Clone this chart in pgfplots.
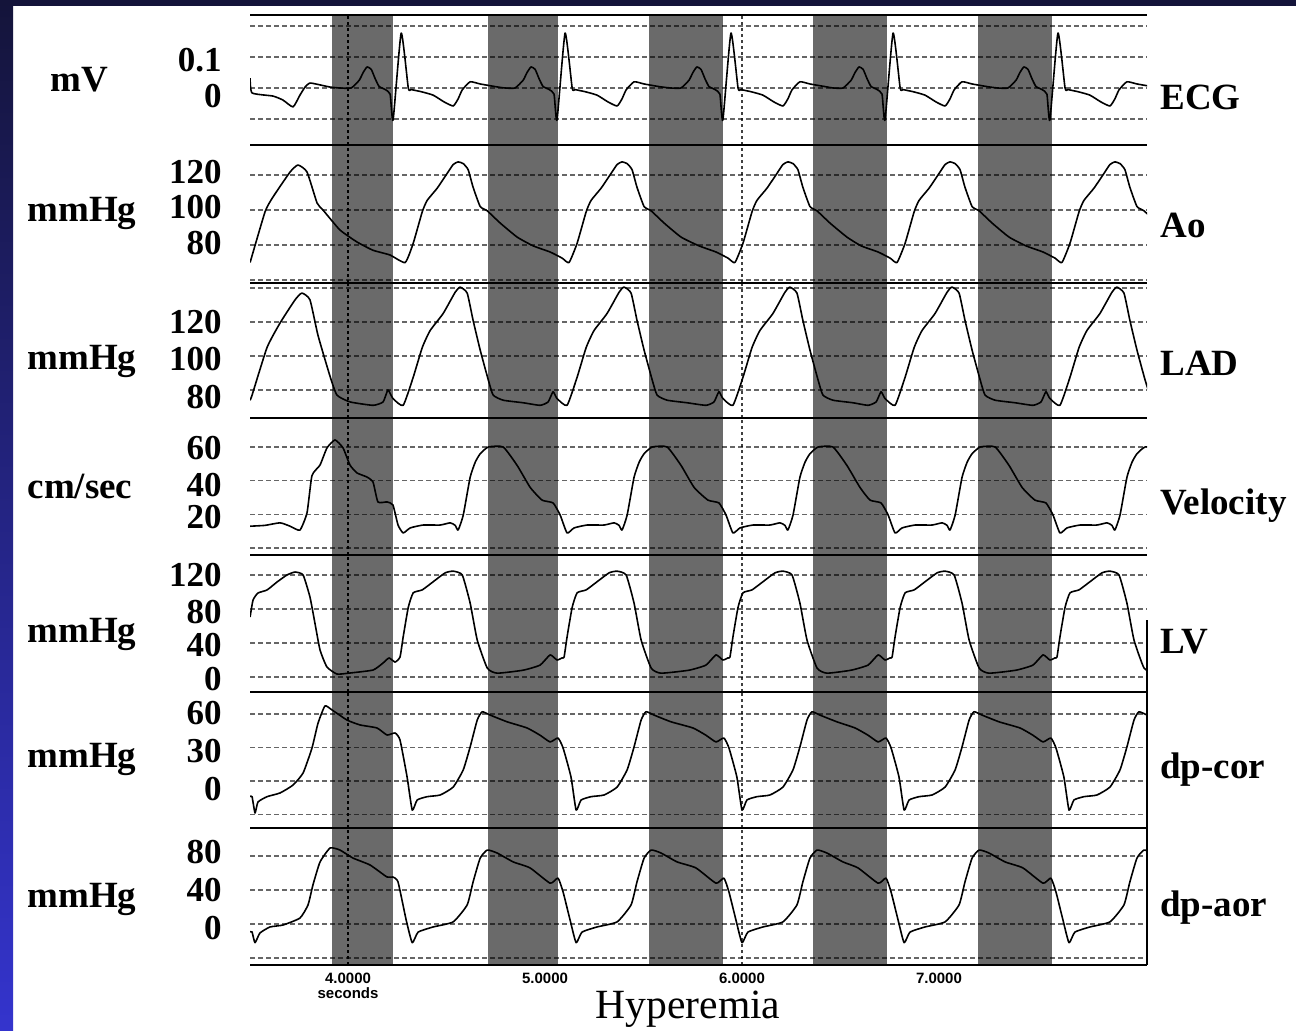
\documentclass[border=0pt]{standalone}
\usepackage{pgfplots}
\pgfplotsset{compat=1.18}
\usepackage{fontspec}
\setmainfont{Liberation Serif}
\newfontfamily\sansb{Liberation Sans}
\definecolor{bandgray}{RGB}{106,106,106}
\definecolor{navyA}{RGB}{20,20,58}
\definecolor{blueB}{RGB}{52,52,205}

\newcommand{\bands}[2]{%
\addplot[fill=bandgray, draw=none] coordinates {(3.919,#1) (4.228,#1) (4.228,#2) (3.919,#2)};
\addplot[fill=bandgray, draw=none] coordinates {(4.711,#1) (5.066,#1) (5.066,#2) (4.711,#2)};
\addplot[fill=bandgray, draw=none] coordinates {(5.528,#1) (5.904,#1) (5.904,#2) (5.528,#2)};
\addplot[fill=bandgray, draw=none] coordinates {(6.360,#1) (6.736,#1) (6.736,#2) (6.360,#2)};
\addplot[fill=bandgray, draw=none] coordinates {(7.198,#1) (7.574,#1) (7.574,#2) (7.198,#2)};
\addplot[black, line width=1pt, dash pattern=on 1.5pt off 1.5pt] coordinates {(4,#1) (4,#2)};
\addplot[black!75, line width=0.6pt, dash pattern=on 1.5pt off 1.5pt] coordinates {(6,#1) (6,#2)};
}

\pgfplotsset{
 panel/.style={
   scale only axis, width=448.5pt, anchor=north west,
   xmin=3.5025, xmax=8.056,
   axis on top,
   axis line style={draw=none},
   xtick=\empty,
   ymajorgrids, yticklabels={},
   major tick length=0pt,
   major grid style={black, draw opacity=0.6, line width=0.75pt, dash pattern=on 2.4pt off 1.6pt},
   extra y tick style={grid=none, major tick length=0pt},
   yticklabel style={font=\bfseries\fontsize{17.5}{19}\selectfont, anchor=east, inner sep=0pt, xshift=-14pt},
 },
 trace/.style={black, line width=0.8pt, smooth, tension=0.3, line join=round},
}

\begin{document}
\begin{tikzpicture}[x=0.5pt,y=0.5pt]
\useasboundingbox (0,0) rectangle (1296,1030);
\fill[white] (0,0) rectangle (1296,1030);
\shade[top color=navyA, bottom color=blueB] (0,0) rectangle (13,1030);
\fill[navyA] (0,1024) rectangle (1296,1030);

% ECG
\begin{axis}[panel, at={(125pt,507.5pt)}, height=65pt, ymin=-0.1839, ymax=0.2355,
  ytick={-0.1,0,0.1,0.2}, extra y ticks={0.09,-0.026}, extra y tick labels={0.1,0}]
\bands{-0.1839}{0.2355}
\addplot[trace] coordinates {(3.503,0.032) (3.513,-0.016) (3.619,-0.026) (3.670,-0.039) (3.721,-0.061) (3.756,-0.023) (3.782,0.003) (3.807,0.016) (3.858,0.010) (3.909,0.003) (3.959,0.0) (4.016,0.0) (4.057,0.025) (4.077,0.05) (4.097,0.068) (4.118,0.06) (4.138,0.03) (4.158,0.005) (4.189,-0.005) (4.214,-0.02) (4.229,-0.103) (4.270,0.177) (4.306,0.0) (4.321,-0.005) (4.372,-0.012) (4.432,-0.023) (4.488,-0.045) (4.534,-0.058) (4.559,-0.035) (4.580,-0.006) (4.620,0.02) (4.671,0.013) (4.752,0.004) (4.797,0.0) (4.848,0.0) (4.889,0.025) (4.909,0.05) (4.929,0.068) (4.950,0.06) (4.970,0.03) (4.990,0.005) (5.021,-0.005) (5.046,-0.02) (5.061,-0.103) (5.102,0.177) (5.138,0.0) (5.153,-0.005) (5.204,-0.012) (5.264,-0.023) (5.320,-0.045) (5.366,-0.058) (5.391,-0.035) (5.412,-0.006) (5.452,0.02) (5.503,0.013) (5.584,0.004) (5.639,0.0) (5.690,0.0) (5.731,0.025) (5.751,0.05) (5.771,0.068) (5.792,0.06) (5.812,0.03) (5.832,0.005) (5.863,-0.005) (5.888,-0.02) (5.903,-0.103) (5.944,0.177) (5.980,0.0) (5.995,-0.005) (6.046,-0.012) (6.106,-0.023) (6.162,-0.045) (6.208,-0.058) (6.233,-0.035) (6.254,-0.006) (6.294,0.02) (6.345,0.013) (6.426,0.004) (6.462,0.0) (6.513,0.0) (6.554,0.025) (6.574,0.05) (6.594,0.068) (6.615,0.06) (6.635,0.03) (6.655,0.005) (6.686,-0.005) (6.711,-0.02) (6.726,-0.103) (6.767,0.177) (6.803,0.0) (6.818,-0.005) (6.869,-0.012) (6.929,-0.023) (6.985,-0.045) (7.031,-0.058) (7.056,-0.035) (7.077,-0.006) (7.117,0.02) (7.168,0.013) (7.249,0.004) (7.299,0.0) (7.350,0.0) (7.391,0.025) (7.411,0.05) (7.431,0.068) (7.452,0.06) (7.472,0.03) (7.492,0.005) (7.523,-0.005) (7.548,-0.02) (7.563,-0.103) (7.604,0.177) (7.640,0.0) (7.655,-0.005) (7.706,-0.012) (7.766,-0.023) (7.822,-0.045) (7.868,-0.058) (7.893,-0.035) (7.914,-0.006) (7.954,0.02) (8.005,0.013) (8.086,0.004)};
\end{axis}

% Ao
\begin{axis}[panel, at={(125pt,442.5pt)}, height=69pt, ymin=58.29, ymax=137.14,
  ytick={60,80,100,120}, extra y ticks={121.7,101.7,81.1}, extra y tick labels={120,100,80}]
\bands{58.29}{137.14}
\addplot[trace] coordinates {(3.503,70) (3.579,99) (3.619,107.4) (3.706,121.7) (3.746,125.7) (3.792,121.7) (3.843,104) (3.873,100) (3.959,88.6) (4.046,81.7) (4.127,77) (4.213,74.3) (4.290,70) (4.331,81) (4.377,99) (4.402,105.5) (4.453,112.5) (4.504,121) (4.534,126) (4.559,127.5) (4.585,126.5) (4.610,123) (4.635,113) (4.671,102) (4.707,99.5) (4.773,92.5) (4.859,84.5) (4.940,79.5) (5.026,76) (5.087,72.5) (5.122,70) (5.163,81) (5.209,99) (5.234,105.5) (5.285,112.5) (5.336,121) (5.366,126) (5.391,127.5) (5.417,126.5) (5.442,123) (5.467,113) (5.503,102) (5.539,99.5) (5.605,92.5) (5.691,84.5) (5.782,79.5) (5.868,76) (5.929,72.5) (5.964,70) (6.005,81) (6.051,99) (6.076,105.5) (6.127,112.5) (6.178,121) (6.208,126) (6.233,127.5) (6.259,126.5) (6.284,123) (6.309,113) (6.345,102) (6.381,99.5) (6.447,92.5) (6.533,84.5) (6.605,79.5) (6.691,76) (6.752,72.5) (6.787,70) (6.828,81) (6.874,99) (6.899,105.5) (6.950,112.5) (7.001,121) (7.031,126) (7.056,127.5) (7.082,126.5) (7.107,123) (7.132,113) (7.168,102) (7.204,99.5) (7.270,92.5) (7.356,84.5) (7.442,79.5) (7.528,76) (7.589,72.5) (7.624,70) (7.665,81) (7.711,99) (7.736,105.5) (7.787,112.5) (7.838,121) (7.868,126) (7.893,127.5) (7.919,126.5) (7.944,123) (7.969,113) (8.005,102) (8.041,99.5) (8.107,92.5)};
\end{axis}

% LAD
\begin{axis}[panel, at={(125pt,373.5pt)}, height=67.5pt, ymin=63.53, ymax=142.94,
  ytick={80,100,120,140}, extra y ticks={120,98.2,75.9}, extra y tick labels={120,100,80}]
\bands{63.53}{142.94}
\addplot[trace] coordinates {(3.503,74) (3.513,77) (3.589,105) (3.655,119.4) (3.731,133) (3.766,137) (3.807,133) (3.848,112) (3.909,88) (3.944,77) (4.010,73) (4.127,71) (4.178,73) (4.203,80) (4.228,75) (4.280,71) (4.331,87.5) (4.377,105) (4.417,115) (4.483,125) (4.544,137.5) (4.569,140.5) (4.605,137) (4.635,121) (4.671,103.5) (4.712,86) (4.737,77) (4.788,74) (4.889,72.5) (4.975,71) (5.016,73) (5.041,79) (5.061,75) (5.112,71) (5.163,87.5) (5.209,105) (5.249,115) (5.315,125) (5.376,137.5) (5.401,140.5) (5.437,137) (5.467,121) (5.503,103.5) (5.544,86) (5.569,77) (5.620,74) (5.721,72.5) (5.817,71) (5.858,73) (5.883,79) (5.903,75) (5.954,71) (6.005,87.5) (6.051,105) (6.091,115) (6.157,125) (6.218,137.5) (6.243,140.5) (6.279,137) (6.309,121) (6.345,103.5) (6.386,86) (6.411,77) (6.462,74) (6.563,72.5) (6.640,71) (6.681,73) (6.706,79) (6.726,75) (6.777,71) (6.828,87.5) (6.874,105) (6.914,115) (6.980,125) (7.041,137.5) (7.066,140.5) (7.102,137) (7.132,121) (7.168,103.5) (7.209,86) (7.234,77) (7.285,74) (7.386,72.5) (7.477,71) (7.518,73) (7.543,79) (7.563,75) (7.614,71) (7.665,87.5) (7.711,105) (7.751,115) (7.817,125) (7.878,137.5) (7.903,140.5) (7.939,137) (7.969,121) (8.005,103.5) (8.046,86) (8.071,77)};
\end{axis}

% Velocity
\begin{axis}[panel, at={(125pt,306pt)}, height=68.5pt, ymin=-4.09, ymax=77.21,
  ytick={0,20,40,60}, extra y ticks={59.4,37.5,18.3}, extra y tick labels={60,40,20}]
\bands{-4.09}{77.21}
\addplot[trace] coordinates {(3.503,13) (3.579,13.5) (3.655,15) (3.706,13) (3.756,10.7) (3.792,21) (3.817,43) (3.858,49.3) (3.893,59.4) (3.934,64.2) (3.975,59.4) (4.010,49.3) (4.046,44.6) (4.096,42.2) (4.127,39.2) (4.152,27.4) (4.198,27.4) (4.228,25.6) (4.254,13.7) (4.280,9) (4.316,12) (4.382,13.7) (4.468,13.7) (4.519,15) (4.544,13.5) (4.559,10.7) (4.585,19.6) (4.620,42) (4.646,51) (4.671,56) (4.712,60) (4.788,60) (4.859,49) (4.925,36) (4.985,28.5) (5.041,26.8) (5.077,19.6) (5.112,9) (5.148,12) (5.214,13.7) (5.300,13.7) (5.351,15) (5.376,13.5) (5.391,10.7) (5.417,19.6) (5.452,42) (5.478,51) (5.503,56) (5.544,60) (5.620,60) (5.691,49) (5.757,36) (5.827,28.5) (5.883,26.8) (5.919,19.6) (5.954,9) (5.990,12) (6.056,13.7) (6.142,13.7) (6.193,15) (6.218,13.5) (6.233,10.7) (6.259,19.6) (6.294,42) (6.320,51) (6.345,56) (6.386,60) (6.462,60) (6.533,49) (6.599,36) (6.650,28.5) (6.706,26.8) (6.742,19.6) (6.777,9) (6.813,12) (6.879,13.7) (6.965,13.7) (7.016,15) (7.041,13.5) (7.056,10.7) (7.082,19.6) (7.117,42) (7.143,51) (7.168,56) (7.209,60) (7.285,60) (7.356,49) (7.422,36) (7.487,28.5) (7.543,26.8) (7.579,19.6) (7.614,9) (7.650,12) (7.716,13.7) (7.802,13.7) (7.853,15) (7.878,13.5) (7.893,10.7) (7.919,19.6) (7.954,42) (7.980,51) (8.005,56) (8.046,60) (8.122,60)};
\end{axis}

% LV
\begin{axis}[panel, at={(125pt,237.5pt)}, height=68.5pt, ymin=-17.65, ymax=143.53,
  ytick={0,40,80,120}, extra y ticks={120,77,37.5,-2.5}, extra y tick labels={120,80,40,0}]
\bands{-17.65}{143.53}
\addplot[trace] coordinates {(3.503,70.6) (3.518,90.6) (3.543,98.8) (3.589,102.4) (3.640,111.8) (3.690,120) (3.731,123.5) (3.772,120) (3.807,94) (3.832,63.5) (3.858,31.8) (3.893,11.8) (3.944,3.5) (4.010,4.7) (4.127,8.2) (4.178,16.5) (4.208,22.4) (4.239,17.6) (4.264,23.5) (4.280,47) (4.306,82) (4.331,99) (4.377,102.5) (4.432,112) (4.493,122.5) (4.534,124.5) (4.580,120) (4.620,87) (4.656,43.5) (4.707,10.5) (4.757,4.5) (4.889,8) (4.975,14) (5.026,26) (5.061,20) (5.087,22.5) (5.097,23.5) (5.112,47) (5.138,82) (5.163,99) (5.209,102.5) (5.264,112) (5.325,122.5) (5.366,124.5) (5.412,120) (5.452,87) (5.488,43.5) (5.539,10.5) (5.589,4.5) (5.731,8) (5.817,14) (5.868,26) (5.903,20) (5.929,22.5) (5.939,23.5) (5.954,47) (5.980,82) (6.005,99) (6.051,102.5) (6.106,112) (6.167,122.5) (6.208,124.5) (6.254,120) (6.294,87) (6.330,43.5) (6.381,10.5) (6.431,4.5) (6.554,8) (6.640,14) (6.691,26) (6.726,20) (6.752,22.5) (6.762,23.5) (6.777,47) (6.803,82) (6.828,99) (6.874,102.5) (6.929,112) (6.990,122.5) (7.031,124.5) (7.077,120) (7.117,87) (7.153,43.5) (7.204,10.5) (7.254,4.5) (7.391,8) (7.477,14) (7.528,26) (7.563,20) (7.589,22.5) (7.599,23.5) (7.614,47) (7.640,82) (7.665,99) (7.711,102.5) (7.766,112) (7.827,122.5) (7.868,124.5) (7.914,120) (7.954,87) (7.990,43.5) (8.041,10.5) (8.091,4.5)};
\end{axis}

% dp-cor
\begin{axis}[panel, at={(125pt,169pt)}, height=68pt, ymin=-42.06, ymax=79.70,
  ytick={-30,0,30,60}, extra y ticks={60.9,26.9,-7.1}, extra y tick labels={60,30,0}]
\bands{-42.06}{79.70}
\addplot[trace] coordinates {(3.503,-14) (3.513,-14) (3.528,-28.6) (3.543,-18.8) (3.589,-14) (3.655,-10.7) (3.721,-3.6) (3.772,7.2) (3.817,29.5) (3.848,51.9) (3.883,67.2) (3.919,63.6) (3.995,54.6) (4.061,50.2) (4.147,47.5) (4.198,41.2) (4.239,43) (4.264,36.7) (4.300,3.6) (4.326,-26) (4.351,-17) (4.402,-14) (4.468,-12.5) (4.534,-5.4) (4.585,10) (4.620,30.5) (4.656,54.6) (4.681,62) (4.722,59) (4.808,53) (4.909,47.5) (4.975,41) (5.026,35) (5.066,38.5) (5.092,29.5) (5.132,3.6) (5.158,-26) (5.183,-17) (5.234,-14) (5.300,-12.5) (5.366,-5.4) (5.417,10) (5.452,30.5) (5.488,54.6) (5.513,62) (5.554,59) (5.640,53) (5.751,47.5) (5.817,41) (5.868,35) (5.908,38.5) (5.934,29.5) (5.974,3.6) (6.000,-26) (6.025,-17) (6.076,-14) (6.142,-12.5) (6.208,-5.4) (6.259,10) (6.294,30.5) (6.330,54.6) (6.355,62) (6.396,59) (6.482,53) (6.574,47.5) (6.640,41) (6.691,35) (6.731,38.5) (6.757,29.5) (6.797,3.6) (6.823,-26) (6.848,-17) (6.899,-14) (6.965,-12.5) (7.031,-5.4) (7.082,10) (7.117,30.5) (7.153,54.6) (7.178,62) (7.219,59) (7.305,53) (7.411,47.5) (7.477,41) (7.528,35) (7.568,38.5) (7.594,29.5) (7.634,3.6) (7.660,-26) (7.685,-17) (7.736,-14) (7.802,-12.5) (7.868,-5.4) (7.919,10) (7.954,30.5) (7.990,54.6) (8.015,62) (8.056,59)};
\end{axis}

% dp-aor
\begin{axis}[panel, at={(125pt,101pt)}, height=68.5pt, ymin=-48.24, ymax=112.94,
  ytick={-40,0,40,80}, extra y ticks={84.7,40,-4.7}, extra y tick labels={80,40,0},
  xtick={4,5,6,7}, xticklabels={{4.0000\\seconds},{5.0000},{6.0000},{7.0000}},
  xticklabel style={font=\sansb\bfseries\fontsize{7.5}{7.5}\selectfont, align=center, anchor=north, inner sep=0pt, yshift=-4pt}]
\bands{-48.24}{112.94}
\addplot[trace] coordinates {(3.503,-9) (3.513,-9.4) (3.528,-22) (3.553,-10.6) (3.604,-3.5) (3.670,-1.2) (3.756,7) (3.797,22.4) (3.822,45.9) (3.858,73) (3.909,89.4) (3.959,87) (4.025,77.6) (4.112,69.4) (4.198,55.3) (4.228,55.3) (4.254,49.4) (4.295,5) (4.326,-22) (4.356,-9.5) (4.432,-3.5) (4.534,2.5) (4.605,22.5) (4.635,49.5) (4.671,77.5) (4.707,87) (4.757,83.5) (4.839,73) (4.924,66) (5.026,48) (5.066,54) (5.092,37.5) (5.127,5) (5.158,-22) (5.188,-9.5) (5.264,-3.5) (5.366,2.5) (5.437,22.5) (5.467,49.5) (5.503,77.5) (5.539,87) (5.589,83.5) (5.671,73) (5.766,66) (5.868,48) (5.908,54) (5.934,37.5) (5.969,5) (6.000,-22) (6.030,-9.5) (6.106,-3.5) (6.208,2.5) (6.279,22.5) (6.309,49.5) (6.345,77.5) (6.381,87) (6.431,83.5) (6.513,73) (6.589,66) (6.691,48) (6.731,54) (6.757,37.5) (6.792,5) (6.823,-22) (6.853,-9.5) (6.929,-3.5) (7.031,2.5) (7.102,22.5) (7.132,49.5) (7.168,77.5) (7.204,87) (7.254,83.5) (7.336,73) (7.426,66) (7.528,48) (7.568,54) (7.594,37.5) (7.629,5) (7.660,-22) (7.690,-9.5) (7.766,-3.5) (7.868,2.5) (7.939,22.5) (7.969,49.5) (8.005,77.5) (8.041,87) (8.091,83.5)};
\end{axis}

% panel separators
\foreach \yy in {1015,885,747,612,475,338,202,65} \draw[line width=1.1pt] (250,\yy) -- (1147,\yy);
\draw[line width=0.9pt] (1147,410) -- (1147,65);

% left unit labels
\begin{scope}[every node/.style={font=\bfseries\fontsize{18.5}{20}\selectfont, anchor=base, inner sep=0pt}]
\node at (79,938) {mV};
\node at (82,808) {mmHg};
\node at (82,660) {mmHg};
\node at (80,531) {cm/sec};
\node at (82,388) {mmHg};
\node at (82,263) {mmHg};
\node at (82,123) {mmHg};
\end{scope}
% right trace labels
\begin{scope}[every node/.style={font=\bfseries\fontsize{18.5}{20}\selectfont, anchor=base west, inner sep=0pt}]
\node at (1160,920) {ECG};
\node at (1160,792) {Ao};
\node at (1160,654) {LAD};
\node at (1160,516) {Velocity};
\node at (1160,377) {LV};
\node at (1160,252) {dp-cor};
\node at (1160,114) {dp-aor};
\end{scope}
\node[font=\fontsize{20.8}{24}\selectfont, anchor=base, inner sep=0pt] at (688,12) {Hyperemia};
\end{tikzpicture}
\end{document}
